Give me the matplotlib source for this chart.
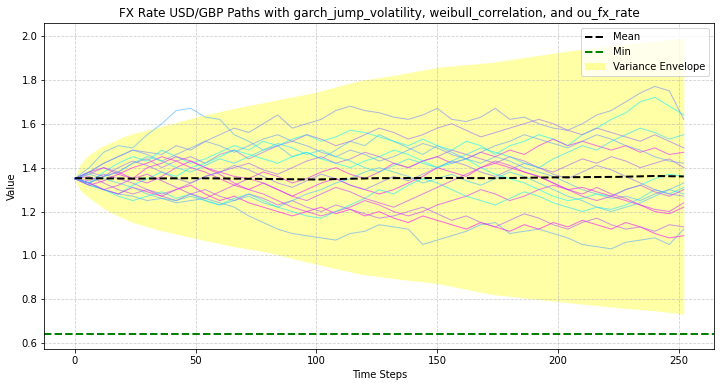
import numpy as np
import matplotlib
matplotlib.use("Agg")
import matplotlib.pyplot as plt

# time grid for the paths (every 6 steps)
steps = list(range(0, 253, 6))

# colour position on the 'cool' colormap for each path
path_colors = [0.30, 0.45, 0.05, 0.60, 0.90, 0.00, 0.35, 1.00, 0.70,
               0.85, 0.95, 0.65, 0.25, 0.10, 0.55, 0.40, 0.80, 0.15]

paths = [
    [1.35, 1.40, 1.47, 1.50, 1.49, 1.55, 1.60, 1.66, 1.67, 1.63, 1.62, 1.55, 1.52, 1.48, 1.50,
     1.45, 1.47, 1.44, 1.48, 1.52, 1.50, 1.55, 1.52, 1.49, 1.46, 1.50, 1.47, 1.44, 1.42, 1.45,
     1.43, 1.40, 1.38, 1.36, 1.33, 1.30, 1.28, 1.26, 1.27, 1.25, 1.28, 1.30, 1.33],
    [1.35, 1.38, 1.42, 1.45, 1.48, 1.47, 1.46, 1.50, 1.48, 1.52, 1.55, 1.58, 1.56, 1.60, 1.64,
     1.58, 1.60, 1.62, 1.66, 1.68, 1.66, 1.65, 1.63, 1.62, 1.64, 1.67, 1.62, 1.61, 1.63, 1.67,
     1.62, 1.63, 1.60, 1.58, 1.57, 1.60, 1.64, 1.66, 1.70, 1.74, 1.77, 1.75, 1.62],
    [1.35, 1.33, 1.38, 1.42, 1.45, 1.43, 1.48, 1.45, 1.42, 1.44, 1.47, 1.50, 1.48, 1.52, 1.50,
     1.53, 1.55, 1.52, 1.54, 1.57, 1.56, 1.54, 1.52, 1.50, 1.53, 1.50, 1.48, 1.52, 1.50, 1.46,
     1.50, 1.52, 1.55, 1.53, 1.50, 1.55, 1.58, 1.62, 1.65, 1.70, 1.72, 1.68, 1.64],
    [1.35, 1.37, 1.40, 1.38, 1.42, 1.44, 1.40, 1.43, 1.45, 1.42, 1.46, 1.48, 1.44, 1.47, 1.50,
     1.52, 1.55, 1.53, 1.50, 1.52, 1.55, 1.58, 1.56, 1.53, 1.55, 1.58, 1.60, 1.57, 1.54, 1.56,
     1.58, 1.60, 1.62, 1.60, 1.57, 1.55, 1.58, 1.56, 1.54, 1.52, 1.55, 1.52, 1.49],
    [1.35, 1.33, 1.36, 1.38, 1.35, 1.40, 1.42, 1.45, 1.43, 1.40, 1.38, 1.36, 1.35, 1.38, 1.36,
     1.33, 1.35, 1.38, 1.40, 1.37, 1.35, 1.38, 1.42, 1.40, 1.43, 1.45, 1.42, 1.44, 1.47, 1.45,
     1.48, 1.46, 1.50, 1.53, 1.50, 1.52, 1.50, 1.48, 1.50, 1.47, 1.49, 1.46, 1.47],
    [1.35, 1.32, 1.30, 1.28, 1.32, 1.35, 1.38, 1.36, 1.40, 1.42, 1.45, 1.48, 1.46, 1.44, 1.42,
     1.45, 1.47, 1.44, 1.42, 1.40, 1.43, 1.45, 1.48, 1.46, 1.43, 1.40, 1.42, 1.44, 1.40, 1.37,
     1.35, 1.33, 1.30, 1.27, 1.25, 1.26, 1.28, 1.27, 1.30, 1.32, 1.35, 1.37, 1.36],
    [1.35, 1.32, 1.30, 1.28, 1.27, 1.25, 1.26, 1.24, 1.25, 1.26, 1.24, 1.22, 1.18, 1.15, 1.12,
     1.10, 1.09, 1.08, 1.07, 1.10, 1.11, 1.14, 1.13, 1.12, 1.05, 1.07, 1.09, 1.11, 1.14, 1.15,
     1.10, 1.11, 1.12, 1.10, 1.08, 1.05, 1.04, 1.03, 1.06, 1.07, 1.08, 1.05, 1.12],
    [1.35, 1.33, 1.30, 1.28, 1.31, 1.29, 1.27, 1.30, 1.32, 1.28, 1.25, 1.27, 1.24, 1.22, 1.20,
     1.18, 1.20, 1.22, 1.19, 1.21, 1.18, 1.20, 1.17, 1.15, 1.18, 1.16, 1.14, 1.12, 1.15, 1.13,
     1.11, 1.14, 1.12, 1.15, 1.13, 1.16, 1.14, 1.12, 1.15, 1.13, 1.10, 1.08, 1.09],
    [1.35, 1.36, 1.33, 1.30, 1.28, 1.30, 1.27, 1.25, 1.28, 1.30, 1.27, 1.25, 1.28, 1.26, 1.23,
     1.25, 1.22, 1.20, 1.23, 1.21, 1.19, 1.17, 1.18, 1.20, 1.22, 1.19, 1.16, 1.18, 1.15, 1.13,
     1.16, 1.19, 1.17, 1.14, 1.12, 1.15, 1.17, 1.14, 1.12, 1.13, 1.11, 1.14, 1.13],
    [1.35, 1.38, 1.40, 1.37, 1.35, 1.33, 1.36, 1.40, 1.43, 1.40, 1.37, 1.33, 1.30, 1.28, 1.25,
     1.22, 1.20, 1.18, 1.20, 1.22, 1.25, 1.23, 1.20, 1.18, 1.20, 1.23, 1.25, 1.27, 1.30, 1.28,
     1.25, 1.27, 1.30, 1.32, 1.30, 1.28, 1.31, 1.28, 1.26, 1.23, 1.21, 1.20, 1.24],
    [1.35, 1.32, 1.34, 1.37, 1.40, 1.42, 1.45, 1.43, 1.40, 1.38, 1.35, 1.32, 1.30, 1.33, 1.30,
     1.27, 1.30, 1.33, 1.35, 1.32, 1.30, 1.28, 1.30, 1.33, 1.36, 1.40, 1.38, 1.36, 1.40, 1.42,
     1.40, 1.38, 1.36, 1.33, 1.30, 1.31, 1.29, 1.27, 1.25, 1.23, 1.20, 1.19, 1.22],
    [1.35, 1.34, 1.37, 1.35, 1.33, 1.30, 1.28, 1.30, 1.33, 1.36, 1.38, 1.40, 1.42, 1.39, 1.37,
     1.40, 1.43, 1.45, 1.42, 1.44, 1.47, 1.45, 1.42, 1.40, 1.43, 1.45, 1.48, 1.46, 1.44, 1.42,
     1.45, 1.43, 1.40, 1.38, 1.41, 1.44, 1.42, 1.45, 1.43, 1.40, 1.42, 1.44, 1.40],
    [1.35, 1.37, 1.35, 1.33, 1.31, 1.28, 1.26, 1.25, 1.27, 1.25, 1.23, 1.25, 1.27, 1.24, 1.22,
     1.25, 1.28, 1.30, 1.33, 1.35, 1.38, 1.40, 1.38, 1.36, 1.33, 1.35, 1.37, 1.34, 1.32, 1.35,
     1.38, 1.36, 1.33, 1.30, 1.27, 1.25, 1.22, 1.20, 1.22, 1.24, 1.27, 1.30, 1.28],
    [1.35, 1.33, 1.30, 1.27, 1.25, 1.27, 1.29, 1.26, 1.28, 1.25, 1.23, 1.26, 1.28, 1.25, 1.22,
     1.20, 1.18, 1.17, 1.20, 1.23, 1.26, 1.30, 1.28, 1.32, 1.35, 1.33, 1.30, 1.27, 1.25, 1.23,
     1.26, 1.29, 1.27, 1.24, 1.22, 1.20, 1.22, 1.21, 1.23, 1.26, 1.30, 1.28, 1.31],
    [1.35, 1.38, 1.36, 1.40, 1.43, 1.41, 1.38, 1.35, 1.33, 1.36, 1.38, 1.41, 1.39, 1.36, 1.33,
     1.31, 1.34, 1.37, 1.35, 1.32, 1.30, 1.33, 1.36, 1.34, 1.37, 1.40, 1.43, 1.41, 1.38, 1.36,
     1.39, 1.42, 1.40, 1.37, 1.35, 1.38, 1.41, 1.39, 1.36, 1.33, 1.30, 1.28, 1.27],
    [1.35, 1.38, 1.42, 1.45, 1.48, 1.46, 1.43, 1.46, 1.49, 1.52, 1.50, 1.47, 1.50, 1.53, 1.55,
     1.52, 1.50, 1.47, 1.45, 1.48, 1.46, 1.43, 1.45, 1.48, 1.51, 1.49, 1.46, 1.44, 1.47, 1.50,
     1.52, 1.55, 1.53, 1.51, 1.49, 1.52, 1.55, 1.53, 1.50, 1.48, 1.45, 1.43, 1.42],
    [1.35, 1.33, 1.30, 1.32, 1.35, 1.37, 1.34, 1.31, 1.28, 1.26, 1.29, 1.32, 1.35, 1.33, 1.30,
     1.27, 1.25, 1.28, 1.31, 1.29, 1.26, 1.24, 1.22, 1.25, 1.28, 1.31, 1.34, 1.37, 1.40, 1.43,
     1.41, 1.38, 1.36, 1.33, 1.30, 1.27, 1.25, 1.27, 1.30, 1.32, 1.29, 1.27, 1.30],
    [1.35, 1.33, 1.36, 1.38, 1.42, 1.45, 1.43, 1.40, 1.38, 1.41, 1.44, 1.42, 1.45, 1.48, 1.51,
     1.49, 1.46, 1.48, 1.45, 1.43, 1.40, 1.38, 1.41, 1.44, 1.42, 1.40, 1.43, 1.46, 1.49, 1.47,
     1.45, 1.42, 1.40, 1.44, 1.47, 1.50, 1.48, 1.52, 1.55, 1.58, 1.56, 1.53, 1.55],
]

# mean line and variance envelope
env_steps = [0, 2, 5, 10, 14, 20, 24, 35, 50, 65, 79, 100, 118, 132, 150, 173, 200, 214, 228, 240, 252]
env_upper = [1.35, 1.41, 1.45, 1.49, 1.51, 1.54, 1.555, 1.585, 1.63, 1.668, 1.698, 1.744, 1.797,
             1.82, 1.857, 1.88, 1.925, 1.945, 1.964, 1.975, 1.99]
env_lower = [1.35, 1.30, 1.27, 1.23, 1.20, 1.17, 1.15, 1.115, 1.077, 1.042, 1.016, 0.96, 0.915,
             0.895, 0.872, 0.822, 0.79, 0.774, 0.759, 0.748, 0.733]
mean_steps = [0, 25, 50, 75, 100, 125, 150, 175, 200, 225, 240, 252]
mean_values = [1.352, 1.350, 1.352, 1.349, 1.346, 1.352, 1.353, 1.352, 1.356, 1.358, 1.362, 1.360]
min_value = 0.64

fig, ax = plt.subplots(figsize=(10, 5.375), dpi=72)
fig.subplots_adjust(left=0.0615, right=0.992, top=0.9398, bottom=0.0974)

env = ax.fill_between(env_steps, env_lower, env_upper, color='yellow', alpha=0.35,
                      linewidth=0, label='Variance Envelope')
for p, c in zip(paths, path_colors):
    ax.plot(steps, p, color=plt.cm.cool(c), alpha=0.6, linewidth=1)
mean_line, = ax.plot(mean_steps, mean_values, 'k--', linewidth=2, label='Mean')
min_line = ax.axhline(min_value, color='green', linestyle='--', linewidth=2, label='Min')

ax.set_title('FX Rate USD/GBP Paths with garch_jump_volatility, weibull_correlation, and ou_fx_rate')
ax.set_xlabel('Time Steps')
ax.set_ylabel('Value')
ax.grid(True, linestyle='--', alpha=0.6)
ax.legend(handles=[mean_line, min_line, env], loc='upper right')

plt.savefig('out.png')
